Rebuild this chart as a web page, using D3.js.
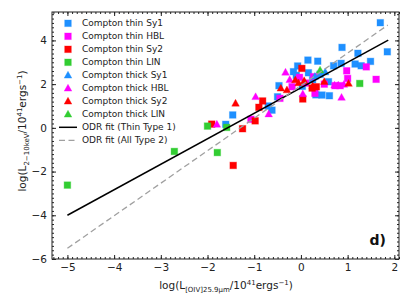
<!DOCTYPE html>
<html><head><meta charset="utf-8">
<script src="https://cdn.jsdelivr.net/npm/d3@7"></script>
<style>body{margin:0;background:#fff}svg{display:block}text{font-family:"DejaVu Sans",sans-serif}</style>
</head><body><svg id="c" width="415" height="308"></svg>
<script>
// ---- data ----
const thinSy1 = [[1.70,4.81],[1.85,3.48],[0.88,3.68],[1.22,3.41],[1.49,3.04],[1.16,2.92],[1.29,2.84],[0.86,2.95],[0.70,2.84],[0.15,3.10],[0.36,3.05],[-0.07,2.83],[-0.16,2.57],[0.16,2.52],[0.41,2.45],[0.59,2.11],[-0.47,1.93],[-0.50,1.42],[-0.62,0.81],[-1.46,0.59],[-1.61,0.16],[0.45,1.50],[0.61,1.47],[0.32,1.51],[0.03,1.90],[-0.70,1.00],[-0.10,2.40],[0.25,2.20]];
const thinHBL = [[1.61,2.22],[1.40,2.79],[0.98,2.61],[1.00,2.26],[0.84,1.93],[0.73,1.93],[0.30,1.58],[0.27,2.34],[-0.03,2.31],[-0.45,1.35],[-1.07,0.39],[0.50,2.00],[-0.19,1.88],[0.10,2.05]];
const thinSy2 = [[0.02,2.72],[0.04,1.32],[0.33,1.88],[0.24,1.82],[-0.82,1.23],[-0.90,0.94],[-0.98,0.32],[-1.25,-0.04],[-1.91,0.17],[-1.45,-1.72]];
const thinLIN = [[-5.00,-2.62],[-2.71,-1.08],[-1.79,-1.13],[-2.00,0.08],[-1.59,0.02],[1.26,2.03]];
const thickSy1 = [[0.30,2.35],[0.52,2.55]];
const thickHBL = [[0.87,1.39],[0.72,1.95],[0.04,1.55],[-0.33,2.54],[-0.24,2.20],[-0.97,1.42],[-0.69,0.63],[-1.80,0.16],[0.92,1.98],[0.80,1.95]];
const thickSy2 = [[1.02,2.03],[0.50,2.11],[0.25,1.91],[0.07,2.15],[-0.12,2.19],[-0.30,1.73],[-0.43,1.81],[-1.40,1.12],[-0.05,2.05]];
const thickLIN = [[0.41,2.64]];
const fitThin = [[-5,-4.00],[1.87,4.01]];
const fitAll2 = [[-5,-5.51],[1.86,4.70]];
const xTicks = [-5,-4,-3,-2,-1,0,1,2];
const yTicks = [-6,-4,-2,0,2,4];
const legendLabels = ["Compton thin Sy1","Compton thin HBL","Compton thin Sy2","Compton thin LIN","Compton thick Sy1","Compton thick HBL","Compton thick Sy2","Compton thick LIN","ODR fit (Thin Type 1)","ODR fit (All Type 2)"];

const C = {blue:"#1e90ff", mag:"#ff00ff", red:"#ff0000", green:"#32cd32"};
const series = [
 {d:thinSy1,c:C.blue,m:"s"},{d:thinHBL,c:C.mag,m:"s"},{d:thinSy2,c:C.red,m:"s"},{d:thinLIN,c:C.green,m:"s"},
 {d:thickSy1,c:C.blue,m:"t"},{d:thickHBL,c:C.mag,m:"t"},{d:thickSy2,c:C.red,m:"t"},{d:thickLIN,c:C.green,m:"t"}];

const L=52,R=399,T=12,B=259;
const x = d3.scaleLinear().domain([-5.33,2.1]).range([L,R]);
const y = d3.scaleLinear().domain([-6,5.3]).range([B,T]);
const svg = d3.select("#c");

function marker(g, m, c){
  if(m==="s") g.append("rect").attr("x",-3.3).attr("y",-3.3).attr("width",6.6).attr("height",6.6).attr("fill",c).attr("stroke",c).attr("stroke-opacity",0.35).attr("stroke-width",1);
  else g.append("path").attr("d","M0,-4L3.8,2.8L-3.8,2.8Z").attr("fill",c).attr("stroke",c).attr("stroke-opacity",0.35).attr("stroke-width",1);
}
const pg = svg.append("g");
series.forEach(s=>{
  s.d.forEach(p=>{ marker(pg.append("g").attr("transform",`translate(${x(p[0])},${y(p[1])})`), s.m, s.c); });
});
const line = d3.line().x(d=>x(d[0])).y(d=>y(d[1]));
svg.append("path").attr("d",line(fitThin)).attr("stroke","#000").attr("stroke-width",1.5).attr("fill","none");
svg.append("path").attr("d",line(fitAll2)).attr("stroke","#a0a0a0").attr("stroke-width",1.3).attr("stroke-dasharray","6,3.5").attr("fill","none");

// axes (ticks inward on all sides)
const fmt = d=> d<0 ? "\u2212"+Math.abs(d) : String(d);
const xMinor = d3.range(-5.3,2.11,0.1).map(v=>+v.toFixed(1));
const yMinor = d3.range(-6,5.31,0.2).map(v=>+v.toFixed(1));
function ax(axisFn, scale, ticks, minor, tr, lab){
  const gMin = svg.append("g").attr("transform",tr).call(axisFn(scale).tickValues(minor).tickSize(-2).tickFormat(""));
  gMin.select(".domain").remove();
  const g = svg.append("g").attr("transform",tr).call(axisFn(scale).tickValues(ticks).tickSize(-4).tickPadding(5).tickFormat(lab?fmt:""));
  g.select(".domain").remove();
  g.selectAll("text").attr("font-size",10.5).attr("fill","#222").attr("font-family","DejaVu Sans");
  g.selectAll("line,.tick line").attr("stroke","#222");
  gMin.selectAll("line").attr("stroke","#222");
}
ax(d3.axisBottom,x,xTicks,xMinor,`translate(0,${B})`,true);
ax(d3.axisTop,x,xTicks,xMinor,`translate(0,${T})`,false);
ax(d3.axisLeft,y,yTicks,yMinor,`translate(${L},0)`,true);
ax(d3.axisRight,y,yTicks,yMinor,`translate(${R},0)`,false);
svg.append("rect").attr("x",L).attr("y",T).attr("width",R-L).attr("height",B-T).attr("fill","none").attr("stroke","#222").attr("stroke-width",1);

// legend
const lg = svg.append("g");
legendLabels.forEach((t,i)=>{
  const yy = 23.3 + i*13;
  const g = lg.append("g").attr("transform",`translate(68,${yy})`);
  if(i<8) marker(g, series[i].m, series[i].c);
  else if(i===8) g.append("line").attr("x1",-9).attr("x2",9).attr("stroke","#000").attr("stroke-width",1.5);
  else g.append("line").attr("x1",-9).attr("x2",9).attr("stroke","#a0a0a0").attr("stroke-width",1.3).attr("stroke-dasharray","6,3.5");
  lg.append("text").attr("x",82).attr("y",yy).attr("dy","0.35em").attr("font-size",9).attr("fill","#222").text(t);
});

// axis labels
const xl = svg.append("text").attr("x",226).attr("y",289).attr("text-anchor","middle").attr("font-size",10.5).attr("fill","#222");
xl.append("tspan").text("log(L");
xl.append("tspan").attr("font-size",7).attr("dy",2.5).text("[OIV]25.9\u03bcm");
xl.append("tspan").attr("dy",-2.5).text("/10");
xl.append("tspan").attr("font-size",7).attr("dy",-4).text("41");
xl.append("tspan").attr("dy",4).text("ergs");
xl.append("tspan").attr("font-size",7).attr("dy",-4).text("\u22121");
xl.append("tspan").attr("dy",4).text(")");
const yl = svg.append("text").attr("transform","translate(26,131) rotate(-90)").attr("text-anchor","middle").attr("font-size",10.5).attr("fill","#222");
yl.append("tspan").text("log(L");
yl.append("tspan").attr("font-size",7).attr("dy",2.5).text("2\u221210keV");
yl.append("tspan").attr("dy",-2.5).text("/10");
yl.append("tspan").attr("font-size",7).attr("dy",-4).text("41");
yl.append("tspan").attr("dy",4).text("ergs");
yl.append("tspan").attr("font-size",7).attr("dy",-4).text("\u22121");
yl.append("tspan").attr("dy",4).text(")");

svg.append("text").attr("x",386).attr("y",245).attr("text-anchor","end").attr("font-size",14).attr("font-weight","bold").attr("fill","#111").text("d)");
</script></body></html>
